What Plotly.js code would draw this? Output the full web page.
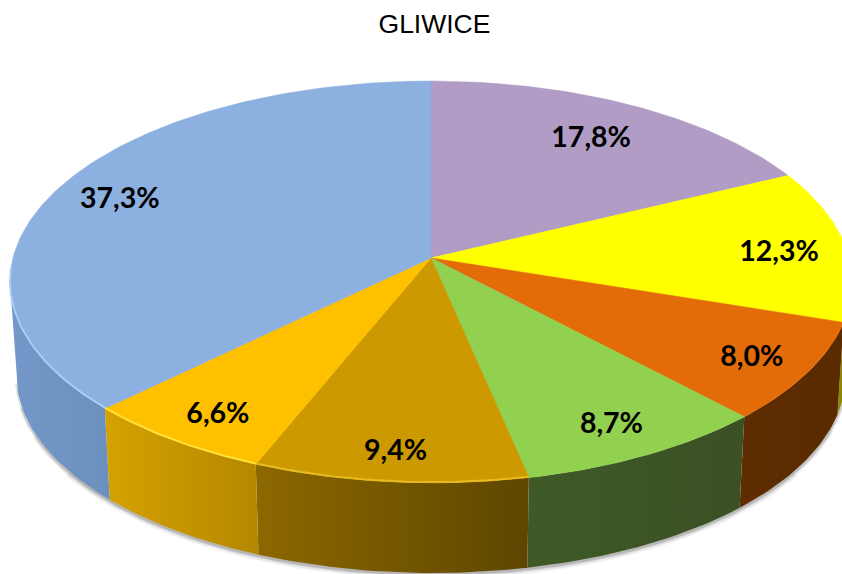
<!DOCTYPE html>
<html>
<head>
<meta charset="utf-8">
<script src="https://cdn.plot.ly/plotly-3.0.1.min.js"></script>
<style>html,body{margin:0;padding:0;background:#fff}</style>
</head>
<body>
<div id="chart" style="width:842px;height:574px"></div>
<script>
// Data, clockwise from 12 o'clock
const sliceNames = ["s1","s2","s3","s4","s5","s6","s7"];
const shares = [17.8, 12.3, 8.0, 8.7, 9.4, 6.6, 37.3];
const labels = ["17,8%","12,3%","8,0%","8,7%","9,4%","6,6%","37,3%"];
const topColors = ["#B09CC4","#FFFF00","#E36C09","#92D050","#CC9900","#FFC000","#8CB0E0"];
const wallFrom = ["#6B5C78","#8A8A00","#5E2D00","#3F5A27","#8C6800","#D6A200","#7398C9"];
const wallTo   = ["#6B5C78","#8A8A00","#5A2A00","#3B5024","#5E4600","#B48700","#6C90BE"];
const rimColors = [null,null,null,null,"#E8BC22","#FFE23A","#A9CFF8"];
const labelRadius = [0.78,0.84,0.86,0.85,0.87,0.84,0.84];
const labelDrop = [3,7,4,4,4,7,5];

// Projection of the tilted disc onto the plot axes
const view = {cx:431, cy:258, R:418, S:198, k:0.1193, depth:93.5, shrink:0.985, lean:2};
const rad = d => d*Math.PI/180;
function project(deg, r, bottom){
  const u = r*Math.sin(rad(deg)), v = r*Math.cos(rad(deg)), w = 1+view.k*v;
  const s = bottom ? view.shrink : 1;
  const lean = v<0 ? view.lean*v*v : 0;
  return [view.cx + lean + s*view.R*u/w, view.cy - s*view.S*v/w + (bottom ? view.depth : 0)];
}
function arc(a, b, bottom){
  const n = Math.max(2, Math.ceil(Math.abs(b-a))), pts = [];
  for(let i=0;i<=n;i++) pts.push(project(a+(b-a)*i/n, 1, bottom));
  return pts;
}
const total = shares.reduce((p,c)=>p+c,0);
let run = 0;
const angles = shares.map(s=>{const a=run/total*360; run+=s; return [a, run/total*360];});
const visA = 97, visB = 263; // wall is seen between the two tangent angles

const traces = [];
const base = {type:"scatter", mode:"lines", hoverinfo:"skip", showlegend:false};

// soft shadow beneath the wall, tapering towards both ends
[[11,0.04,125,235],[8,0.06,112,246],[5,0.09,104,254],[3,0.12,98,261]].forEach(([w,o,a,b])=>{
  const p = arc(a, b, true);
  traces.push({...base, x:p.map(q=>q[0]), y:p.map(q=>q[1]+1), line:{color:"rgba(0,0,0,"+o+")", width:w}});
});

// walls
angles.forEach(([a,b],i)=>{
  const s = Math.max(a,visA), e = Math.min(b,visB);
  if(e<=s) return;
  const p = arc(s,e,false).concat(arc(e,s,true));
  traces.push({...base, x:p.map(q=>q[0]), y:p.map(q=>q[1]), fill:"toself", line:{width:0},
    fillcolor:wallFrom[i],
    fillgradient:{type:"horizontal", colorscale:[[0,wallFrom[i]],[1,wallTo[i]]]}});
});

// top faces
angles.forEach(([a,b],i)=>{
  const p = [[view.cx,view.cy]].concat(arc(a,b,false)).concat([[view.cx,view.cy]]);
  traces.push({...base, x:p.map(q=>q[0]), y:p.map(q=>q[1]), fill:"toself",
    fillcolor:topColors[i], line:{width:0.6, color:topColors[i]}, name:sliceNames[i]});
});

// bevel highlight on the front rim
angles.forEach(([a,b],i)=>{
  if(!rimColors[i]) return;
  const p = arc(Math.max(a,visA), Math.min(b,visB+4), false);
  traces.push({...base, x:p.map(q=>q[0]), y:p.map(q=>q[1]-0.8), line:{color:rimColors[i], width:1.8}});
});

// labels
const lp = angles.map(([a,b],i)=>project((a+b)/2, labelRadius[i], false));
traces.push({type:"scatter", mode:"text", x:lp.map(q=>q[0]), y:lp.map((q,i)=>q[1]+labelDrop[i]), text:labels,
  textposition:"middle center", hoverinfo:"skip", showlegend:false,
  textfont:{family:"Lato, 'Open Sans', sans-serif", size:28.5, color:"#000", weight:700}});

const hidden = {visible:false, fixedrange:true};
Plotly.newPlot("chart", traces, {
  width:842, height:574, margin:{l:0,r:0,t:0,b:0},
  paper_bgcolor:"#fff", plot_bgcolor:"#fff", showlegend:false,
  title:{text:"GLIWICE", x:0.516, xanchor:"center", y:0.958, yanchor:"middle",
         font:{family:"Liberation Sans, Arial, sans-serif", size:26.5, color:"#000"}},
  xaxis:{...hidden, range:[0,842]},
  yaxis:{...hidden, range:[574,0]}
}, {displayModeBar:false, staticPlot:true});
</script>
</body>
</html>
